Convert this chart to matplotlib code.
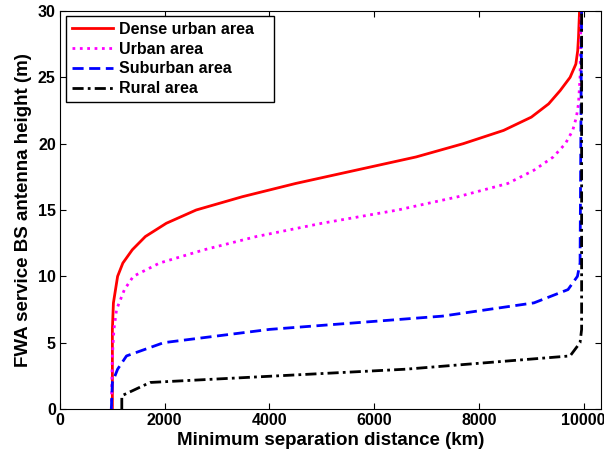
import matplotlib
matplotlib.use('Agg')
import matplotlib.pyplot as plt

plt.rcParams['font.family'] = ['Liberation Sans', 'DejaVu Sans']
plt.rcParams['font.weight'] = 'bold'

# heights (m) vs minimum separation distance (km)
dense_x = [1000, 1000, 1020, 1100, 1200, 1380, 1630, 2030, 2600, 3480, 4500, 5650,
           6800, 7700, 8470, 9000, 9330, 9550, 9740, 9850, 9885, 9900, 9910, 9915, 9920]
dense_y = [0, 6, 8, 10, 11, 12, 13, 14, 15, 16, 17, 18,
           19, 20, 21, 22, 23, 24, 25, 26, 27, 28, 29, 29.5, 30]

urban_x = [980, 990, 1000, 1030, 1080, 1150, 1230, 1400, 1900, 2750, 3750, 5000,
           6450, 7600, 8550, 9050, 9420, 9650, 9790, 9860, 9900, 9930, 9950]
urban_y = [0, 2, 4, 6, 7.5, 8.2, 9, 10, 11, 12, 13, 14,
           15, 16, 17, 18, 19, 20, 21, 22, 23, 25, 30]

suburban_x = [980, 1000, 1100, 1270, 1980, 4000, 7300, 9050, 9700, 9880, 9930, 9960]
suburban_y = [0, 2, 3, 4, 5, 6, 7, 8, 9, 10, 11, 30]

rural_x = [1180, 1180, 1720, 6600, 9740, 9930, 9960, 9960]
rural_y = [0, 1, 2, 3, 4, 5, 6, 30]

fig = plt.figure(figsize=(6.04, 4.55), dpi=100)
ax = fig.add_axes([60 / 604, 46 / 455, 541 / 604, 398 / 455])

# trailing spaces give the legend box its wider right margin
ax.plot(dense_x, dense_y, color='red', lw=2, ls='-', label='Dense urban area   ')
ax.plot(urban_x, urban_y, color='magenta', lw=2, ls=':', label='Urban area')
ax.plot(suburban_x, suburban_y, color='blue', lw=2, ls=(0, (4, 2)), label='Suburban area')
ax.plot(rural_x, rural_y, color='black', lw=2, ls=(0, (4, 1.5, 1, 1.5)), label='Rural area')

ax.set_xlim(0, 10330)
ax.set_ylim(0, 30)
ax.set_xticks([0, 2000, 4000, 6000, 8000, 10000])
ax.set_yticks([0, 5, 10, 15, 20, 25, 30])
ax.tick_params(direction='in', top=True, right=True, labelsize=11.5, length=4, pad=3)
for lab in ax.get_xticklabels() + ax.get_yticklabels():
    lab.set_fontweight('bold')

ax.set_xlabel('Minimum separation distance (km)', fontsize=13.5, fontweight='bold', labelpad=3)
ax.set_ylabel('FWA service BS antenna height (m)', fontsize=13.5, fontweight='bold', labelpad=4)

leg = ax.legend(loc='upper left', bbox_to_anchor=(0.011, 0.987), borderaxespad=0,
                fontsize=11.5, fancybox=False, framealpha=1, handlelength=2.6,
                labelspacing=0.3, borderpad=0.35, handletextpad=0.4)
leg.get_frame().set_edgecolor('black')
leg.get_frame().set_linewidth(1)

fig.savefig('out.png', dpi=100)
